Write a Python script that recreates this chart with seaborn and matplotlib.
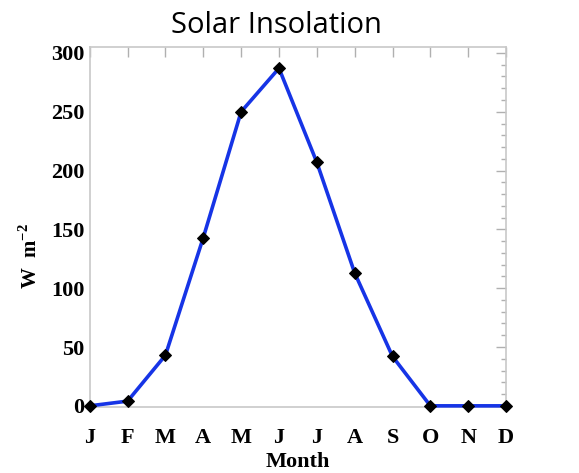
import matplotlib
matplotlib.use("Agg")
import matplotlib.pyplot as plt
import seaborn as sns
import pandas as pd
import numpy as np
from matplotlib.ticker import MultipleLocator

months = ["J", "F", "M", "A", "M", "J", "J", "A", "S", "O", "N", "D"]
insolation = [0, 4, 43, 143, 250, 287, 207, 113, 42, 0, 0, 0]
yticks = [0, 50, 100, 150, 200, 250, 300]

df = pd.DataFrame({"month": np.arange(len(months)), "value": insolation})

sns.set_style("white")
plt.rcParams["mathtext.fontset"] = "custom"
plt.rcParams["mathtext.rm"] = "Liberation Serif:bold"
plt.rcParams["mathtext.bf"] = "Liberation Serif:bold"
plt.rcParams["text.color"] = "black"
plt.rcParams["axes.labelcolor"] = "black"

fig = plt.figure(figsize=(5.79, 4.73), dpi=100)
ax = fig.add_axes([0.155, 0.1395, 0.719, 0.761])

sns.lineplot(data=df, x="month", y="value", ax=ax, color="#1634e6",
             linewidth=2.6, marker="D", markersize=6,
             markerfacecolor="black", markeredgecolor="black", zorder=3,
             clip_on=False)

ax.set_xlim(0, 11)
ax.set_ylim(-1, 305)
ax.set_xticks(df["month"])
ax.set_xticklabels(months)
ax.set_yticks(yticks)
ax.set_yticklabels([str(v) for v in yticks])
ax.yaxis.set_minor_locator(MultipleLocator(10))

serif_bold = dict(family="Liberation Serif", weight="bold")
for lab in ax.get_xticklabels() + ax.get_yticklabels():
    lab.set_fontfamily("Liberation Serif")
    lab.set_fontweight("bold")
    lab.set_fontsize(16)

ax.tick_params(axis="both", which="both", direction="in", colors="#b0b0b0",
               labelcolor="black", top=True, right=True)
ax.tick_params(axis="x", which="major", length=7, width=1, pad=15)
ax.tick_params(axis="y", which="major", length=7, width=1, pad=4)
ax.tick_params(axis="y", which="minor", length=3.5, width=1)
ax.tick_params(axis="x", which="minor", bottom=False, top=False)

for s in ax.spines.values():
    s.set_color("#c8c8c8")
    s.set_linewidth(1.2)

ax.set_xlabel("Month", fontsize=16, labelpad=3, color="black", **serif_bold)
ax.set_ylabel(r"W  m$^{\mathbf{-2}}$", fontsize=15, labelpad=0, color="black",
              **serif_bold)
ax.yaxis.set_label_coords(-0.115, 0.42)

fig.text(0.478, 0.947, "Solar Insolation", ha="center", va="center",
         fontsize=21, family="Open Sans", color="black")

fig.savefig("out.png", dpi=100)
